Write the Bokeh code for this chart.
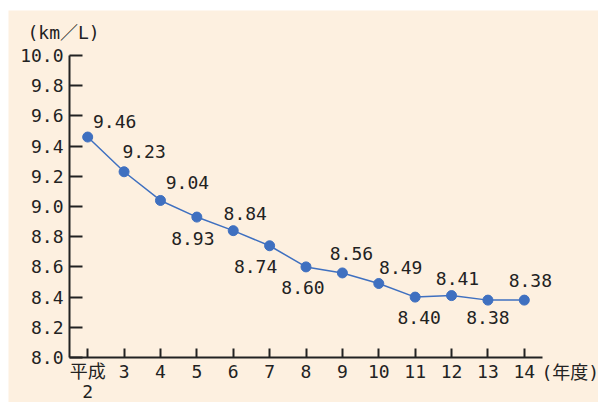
from bokeh.plotting import figure
from bokeh.models import ColumnDataSource, LabelSet, Label, FixedTicker
from bokeh.core.properties import value
from bokeh.embed import file_html
from bokeh.resources import INLINE

# Fuel economy (km/L) by fiscal year (Heisei 2 .. 14)
years = [2, 3, 4, 5, 6, 7, 8, 9, 10, 11, 12, 13, 14]
km_per_litre = [9.46, 9.23, 9.04, 8.93, 8.84, 8.74, 8.60, 8.56, 8.49, 8.40, 8.41, 8.38, 8.38]
value_labels = ["9.46", "9.23", "9.04", "8.93", "8.84", "8.74", "8.60",
                "8.56", "8.49", "8.40", "8.41", "8.38", "8.38"]
x_tick_labels = ["平成", "3", "4", "5", "6", "7", "8", "9", "10", "11", "12", "13", "14"]
era_year_label = "2"      # second line under 平成
y_ticks = [8.0, 8.2, 8.4, 8.6, 8.8, 9.0, 9.2, 9.4, 9.6, 9.8, 10.0]

# pixel nudges for each value label (right, up)
label_dx = [27, 20, 27, -4, 12, -14, -3, 9, 22, 4, 6, 0, 6]
label_dy = [16, 20, 18, -21, 17, -21, -21, 19, 16, -20, 17, -17, 20]

CREAM = "#fdf0e0"
BLUE = "#3f70c0"
INK = "#222222"
NUM_FONT = "DejaVu Sans Mono"
MIX_FONT = "DejaVu Sans Mono, Noto Sans CJK JP"

# canvas geometry (px): the axes sit inside one full-size frame
W, H = 590, 392
AX_LEFT, AX_RIGHT = 61, 534      # x = 1.5 .. 14.5
AX_TOP, AX_BOTTOM = 45, 347      # y = 10.0 .. 8.0
X0, X1 = 1.5, 14.5
Y0, Y1 = 8.0, 10.0
sx = (AX_RIGHT - AX_LEFT) / (X1 - X0)
sy = (AX_BOTTOM - AX_TOP) / (Y1 - Y0)
x_range = (X0 - AX_LEFT / sx, X1 + (W - AX_RIGHT) / sx)
y_range = (Y0 - (H - AX_BOTTOM) / sy, Y1 + AX_TOP / sy)

p = figure(width=W, height=H, x_range=x_range, y_range=y_range,
           output_backend="svg", toolbar_location=None,
           min_border=0)
p.margin = (10, 0, 0, 8)
p.background_fill_color = CREAM
p.border_fill_color = CREAM
p.outline_line_color = None
p.xgrid.visible = False
p.ygrid.visible = False

src = ColumnDataSource(dict(x=years, y=km_per_litre, txt=value_labels,
                            dx=label_dx, dy=label_dy))

p.line("x", "y", source=src, line_color=BLUE, line_width=1.5)
p.scatter("x", "y", source=src, size=10, fill_color=BLUE, line_color=BLUE)

p.add_layout(LabelSet(x="x", y="y", text="txt", source=src,
                      x_offset="dx", y_offset="dy",
                      text_align="center", text_baseline="middle",
                      text_font=value(NUM_FONT), text_font_size=value("18px"),
                      text_color=INK))

# x axis pinned at y = 8.0
xa = p.xaxis[0]
xa.fixed_location = Y0
xa.bounds = (X0, X1)
xa.ticker = FixedTicker(ticks=years)
xa.major_label_overrides = {yr: lab for yr, lab in zip(years, x_tick_labels)}
xa.major_tick_in = 9
xa.major_tick_out = 0
xa.minor_tick_line_color = None
xa.axis_line_width = 2
xa.axis_line_color = INK
xa.major_tick_line_width = 2
xa.major_tick_line_color = INK
xa.major_label_text_font = MIX_FONT
xa.major_label_text_font_size = "18px"
xa.major_label_text_color = INK
xa.major_label_standoff = 3

# y axis pinned at x = 1.5
ya = p.yaxis[0]
ya.fixed_location = X0
ya.bounds = (Y0, Y1)
ya.ticker = FixedTicker(ticks=y_ticks)
ya.major_label_overrides = {t: f"{t:.1f}" for t in y_ticks}
ya.major_tick_in = 13
ya.major_tick_out = 0
ya.minor_tick_line_color = None
ya.axis_line_width = 2
ya.axis_line_color = INK
ya.major_tick_line_width = 2
ya.major_tick_line_color = INK
ya.major_label_text_font = NUM_FONT
ya.major_label_text_font_size = "18px"
ya.major_label_text_color = INK
ya.major_label_standoff = 6

# "2" of 平成2, set under the first tick label
p.add_layout(Label(x=years[0], y=Y0, y_offset=-34, text=era_year_label,
                   text_align="center", text_baseline="middle",
                   text_font=NUM_FONT, text_font_size="18px", text_color=INK))

# unit captions
p.add_layout(Label(x=X0, y=Y1, x_offset=-42, y_offset=23, text="(km／L)",
                   text_align="left", text_baseline="middle",
                   text_font=MIX_FONT, text_font_size="18px", text_color=INK))
p.add_layout(Label(x=X1, y=Y0, x_offset=-1, y_offset=-15, text="(年度)",
                   text_align="left", text_baseline="middle",
                   text_font=MIX_FONT, text_font_size="18px", text_color=INK))

open("out.html", "w").write(file_html(p, INLINE))
